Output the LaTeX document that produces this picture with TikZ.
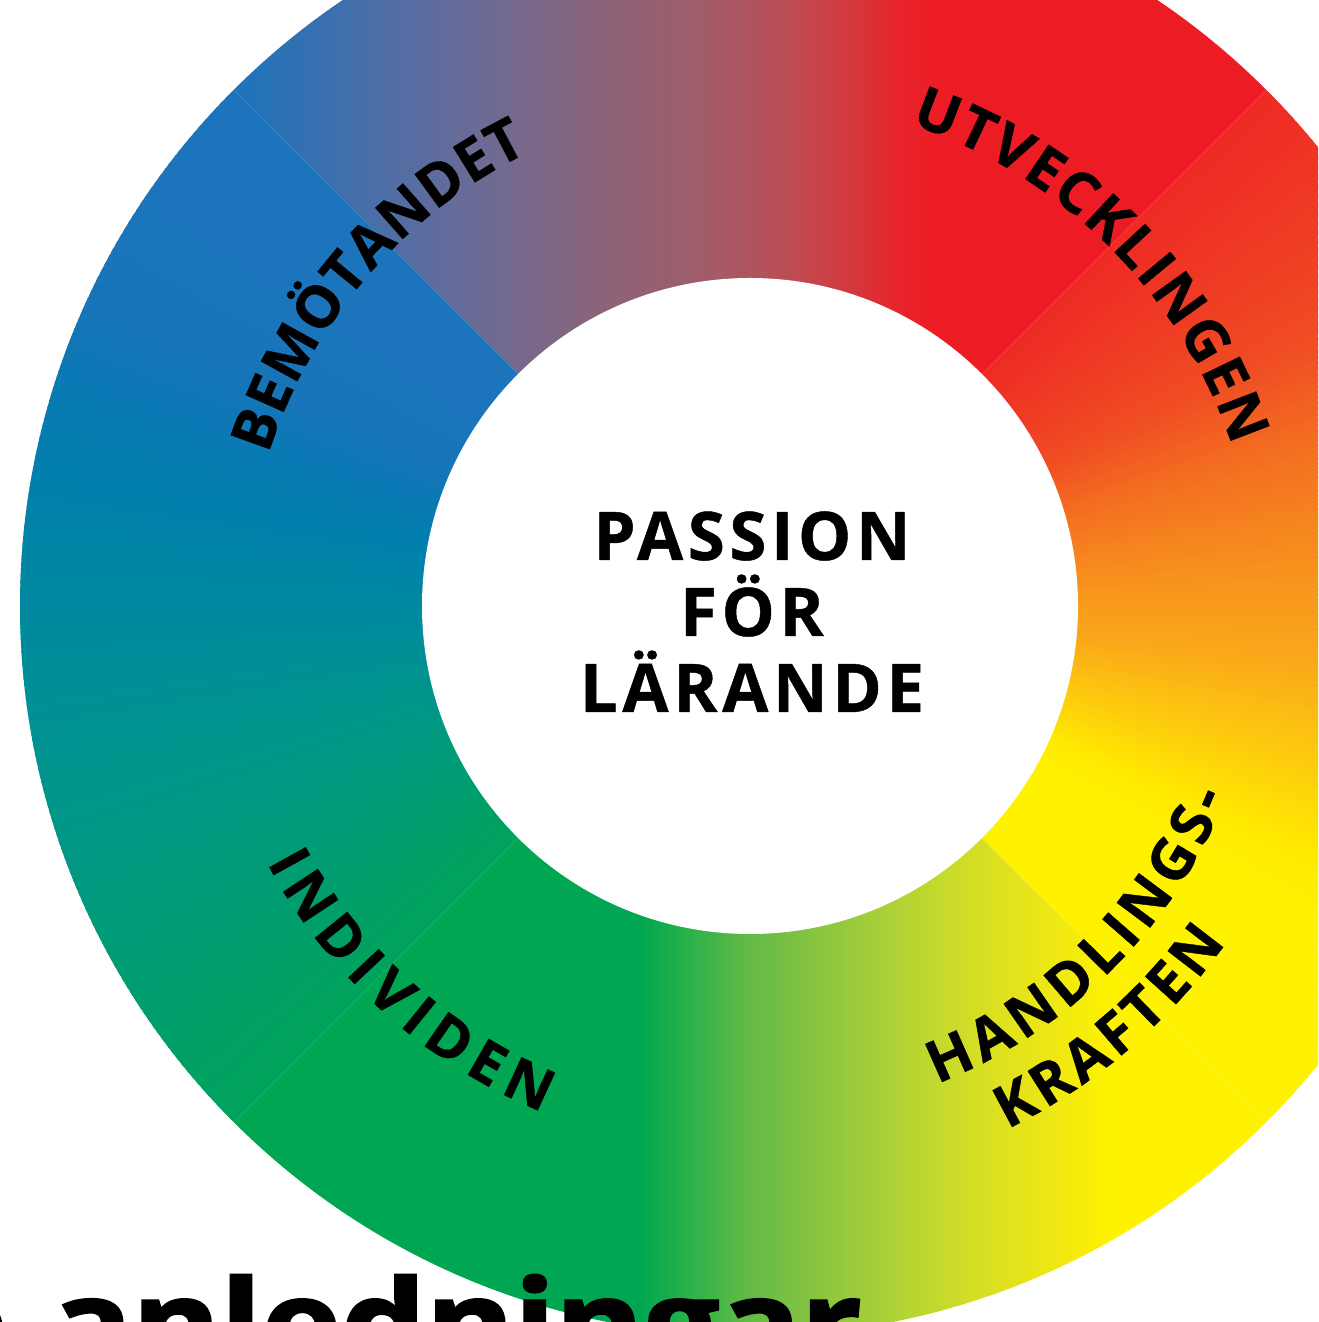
\documentclass[tikz,border=0pt]{standalone}
\usepackage{fontspec}
\setmainfont{Open Sans}
\newfontfamily\heavyfont{Open Sans}[BoldFeatures={FakeBold=2}]
\newfontfamily\labfont{Open Sans}[BoldFeatures={FakeBold=0.7}]
\usetikzlibrary{decorations.text}
% top quadrant colours
\definecolor{ta}{HTML}{1C75BC}\definecolor{tb}{HTML}{3170B3}\definecolor{tc}{HTML}{536DA3}
\definecolor{td}{HTML}{6C6B95}\definecolor{te}{HTML}{8A6479}\definecolor{tf}{HTML}{A05D6B}
\definecolor{tg}{HTML}{BD4C52}\definecolor{th}{HTML}{D4393D}\definecolor{ti}{HTML}{E8232A}
\definecolor{tj}{HTML}{ED1C24}
% right quadrant (angular stops)
\definecolor{r0}{HTML}{FFF200}\definecolor{r1}{HTML}{FFF200}\definecolor{r2}{HTML}{FFEA00}
\definecolor{r3}{HTML}{FED40A}\definecolor{r4}{HTML}{FCBF12}\definecolor{r5}{HTML}{FAA61A}
\definecolor{r6}{HTML}{F7941D}\definecolor{r7}{HTML}{F5801F}\definecolor{r8}{HTML}{F36C21}
\definecolor{r9}{HTML}{F04E23}\definecolor{r10}{HTML}{EF3A24}\definecolor{r11}{HTML}{EE2A24}
% left quadrant (angular stops)
\definecolor{l0}{HTML}{1C75BC}\definecolor{l1}{HTML}{1C75BC}\definecolor{l2}{HTML}{1874B9}
\definecolor{l3}{HTML}{0A79B4}\definecolor{l4}{HTML}{0080AC}\definecolor{l5}{HTML}{0087A2}
\definecolor{l6}{HTML}{008E98}\definecolor{l7}{HTML}{00958B}\definecolor{l8}{HTML}{009A7C}
\definecolor{l9}{HTML}{009E6B}\definecolor{l10}{HTML}{00A35A}
% bottom quadrant
\definecolor{ba}{HTML}{00A651}\definecolor{bb}{HTML}{22B04B}\definecolor{bc}{HTML}{5CB947}
\definecolor{bd}{HTML}{7CC043}\definecolor{be}{HTML}{95C93D}\definecolor{bf}{HTML}{B0D236}
\definecolor{bg}{HTML}{C8DA2B}\definecolor{bh}{HTML}{DDE11F}\definecolor{bi}{HTML}{EEE713}
\definecolor{bj}{HTML}{FFF200}
\pgfdeclarehorizontalshading{topq}{100bp}{color(0bp)=(ta); color(25bp)=(ta); color(28.2bp)=(tb);
 color(33bp)=(tc); color(36.9bp)=(td); color(42.7bp)=(te); color(47.6bp)=(tf); color(52bp)=(tg);
 color(54.8bp)=(th); color(57.3bp)=(ti); color(59.2bp)=(tj); color(75bp)=(tj); color(100bp)=(tj)}
\pgfdeclarehorizontalshading{bottomq}{100bp}{color(0bp)=(ba); color(25bp)=(ba); color(44.6bp)=(ba);
 color(46.6bp)=(bb); color(49.5bp)=(bc); color(52bp)=(bd); color(54.5bp)=(be); color(57bp)=(bf);
 color(59.5bp)=(bg); color(62bp)=(bh); color(64.6bp)=(bi); color(67.5bp)=(bj); color(75bp)=(bj); color(100bp)=(bj)}
\newcommand\ringf{\labfont\fontsize{58}{64}\selectfont\bfseries}
\newcommand\centf{\labfont\fontsize{67}{76}\selectfont\bfseries\addfontfeature{LetterSpace=7}}
\tikzset{
  ringtxt/.style={decorate, decoration={text along path, text={#1}, text align={fit to path}}},
  centtxt/.style={anchor=base, font=\centf, inner sep=0pt, text=black},
}
\begin{document}
\begin{tikzpicture}[x=1pt,y=1pt]
\useasboundingbox (0,0) rectangle (1318,1322);
\clip (0,0) rectangle (1318,1322);
\coordinate (C) at (750,716);
% top quadrant: linear
\begin{scope}
  \clip (C) -- ++(45:730) arc[start angle=45,end angle=135,radius=730] -- cycle;
  \shade[shading=topq] (233,716) rectangle (1267,1460);
\end{scope}
% bottom quadrant: linear
\begin{scope}
  \clip (C) -- ++(225:730) arc[start angle=225,end angle=315,radius=730] -- cycle;
  \shade[shading=bottomq] (233,-20) rectangle (1267,716);
\end{scope}
% right quadrant: angular
\begin{scope}
  \clip (C) -- ++(-45:730) arc[start angle=-45,end angle=45,radius=730] -- cycle;
  \begin{scope}[shift={(C)}]
  \foreach \a/\b/\ca/\cb in {-45/-30/r0/r1, -30/-24/r1/r2, -24/-18/r2/r3, -18/-12/r3/r4,
     -12/-5/r4/r5, -5/3/r5/r6, 3/10/r6/r7, 10/17/r7/r8, 17/25/r8/r9, 25/35/r9/r10, 35/45/r10/r11}{
    \foreach \k in {0,...,15}{
      \pgfmathsetmacro\t{\a+(\b-\a)*\k/16}
      \pgfmathsetmacro\u{\a+(\b-\a)*(\k+1.6)/16}
      \pgfmathsetmacro\p{100-100*(\k+0.5)/16}
      \fill[\ca!\p!\cb] (0,0) -- (\t:735) arc[start angle=\t,end angle=\u,radius=735] -- cycle;
    }
  }
  \end{scope}
\end{scope}
% left quadrant: angular
\begin{scope}
  \clip (C) -- ++(135:730) arc[start angle=135,end angle=225,radius=730] -- cycle;
  \begin{scope}[shift={(C)}]
  \foreach \a/\b/\ca/\cb in {135/145/l0/l1, 145/155/l1/l2, 155/162/l2/l3, 162/170/l3/l4,
     170/178/l4/l5, 178/186/l5/l6, 186/195/l6/l7, 195/205/l7/l8, 205/215/l8/l9, 215/225/l9/l10}{
    \foreach \k in {0,...,15}{
      \pgfmathsetmacro\t{\a+(\b-\a)*\k/16}
      \pgfmathsetmacro\u{\a+(\b-\a)*(\k+1.6)/16}
      \pgfmathsetmacro\p{100-100*(\k+0.5)/16}
      \fill[\ca!\p!\cb] (0,0) -- (\t:735) arc[start angle=\t,end angle=\u,radius=735] -- cycle;
    }
  }
  \end{scope}
\end{scope}
\fill[white] (C) circle[radius=328];
% ring labels
\begin{scope}[shift={(C)}]
  \path[ringtxt={|\ringf|BEMÖTANDET}] (162.5:505) arc[start angle=162.5,end angle=116,radius=505];
  \path[ringtxt={|\ringf|UTVECKLINGEN}] (71.6:508) arc[start angle=71.6,end angle=18.4,radius=508];
  \path[ringtxt={|\ringf|INDIVIDEN}] (208:547) arc[start angle=208,end angle=247.7,radius=547];
  \path[ringtxt={|\ringf|HANDLINGS-}] (-68.6:513) arc[start angle=-68.6,end angle=-21.8,radius=513];
  \path[ringtxt={|\ringf|KRAFTEN}] (-63.8:583) arc[start angle=-63.8,end angle=-35.3,radius=583];
\end{scope}
% centre text
\node[centtxt] (l1) at (752,762) {PASSION};
\node[centtxt] (l2) at (752,686) {FÖR};
\node[centtxt] (l3) at (752,610) {LÄRANDE};
% bottom heading
\node[anchor=base east, inner sep=0pt, font={\heavyfont\fontsize{120}{130}\selectfont\bfseries}] (bot) at (862,-44) {\scalebox{1.12}[1]{e\kern8pt\ anledningar}};
\end{tikzpicture}
\end{document}
